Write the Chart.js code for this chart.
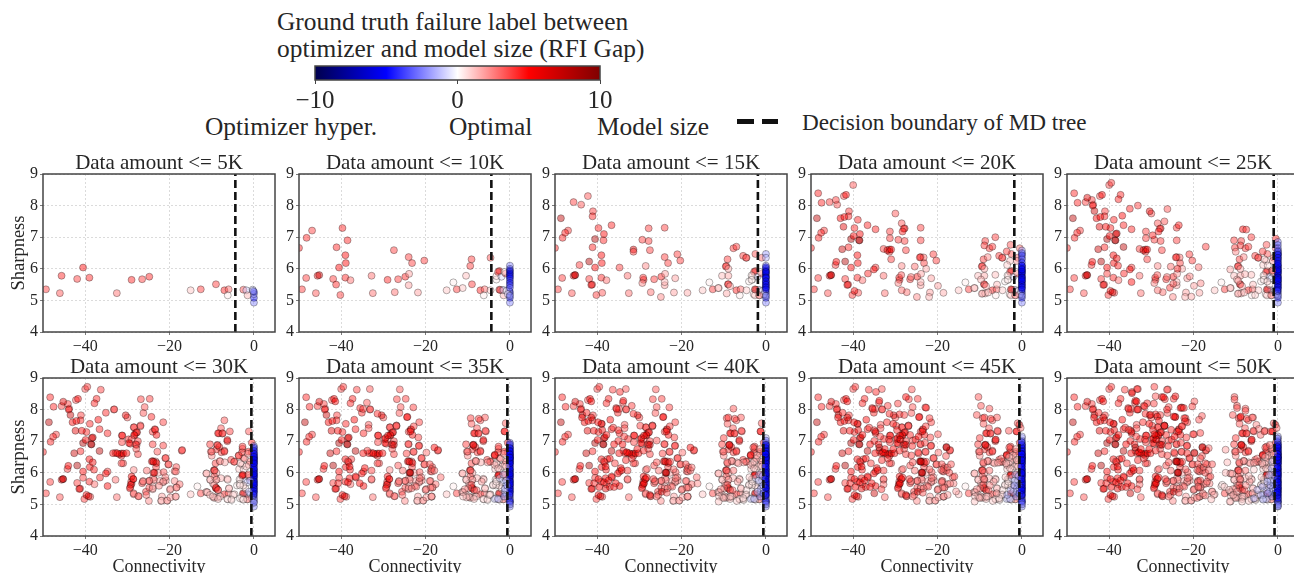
<!DOCTYPE html>
<html>
<head>
<meta charset="utf-8">
<script src="https://cdn.jsdelivr.net/npm/chart.js@4"></script>
<style>
  html, body { margin: 0; padding: 0; background: #fff; overflow: hidden; width: 1294px; height: 573px; }
  body { position: relative; font-family: "Liberation Serif", serif; color: #262626; }
  canvas { position: absolute; filter: blur(0.35px); }
  .label { position: absolute; white-space: nowrap; font-size: 25.4px; line-height: 28px; }
  .dash { position: absolute; left: 737px; top: 119px; width: 41px; height: 5px;
          background: linear-gradient(90deg, #111 0 17px, transparent 17px 25px, #111 25px); }
</style>
</head>
<body>
<div class="label" style="left:277px;top:7px">Ground truth failure label between</div>
<div class="label" style="left:277px;top:34px">optimizer and model size (RFI Gap)</div>
<div class="label" style="left:205px;top:112px">Optimizer hyper.</div>
<div class="label" style="left:449px;top:112px">Optimal</div>
<div class="label" style="left:597px;top:112px">Model size</div>
<div class="label" style="left:802px;top:108px;font-size:23.2px">Decision boundary of MD tree</div>
<div class="dash"></div>
<canvas id="colorbar" width="380" height="62" style="left:280px;top:60px"></canvas>
<script>
// rows: connectivity, sharpness, RFI gap
const tier5K = [
  [-49.3,5.35,4],[-46,5.23,3.5],[-45.6,5.78,4.5],[-41.9,5.68,4],[-40.5,6.04,5],[-39,5.72,4.5],[-32.5,5.23,3],
  [-29,5.65,4.5],[-26.5,5.67,4],[-24.8,5.75,4.5],[-15,5.32,1.2],[-12.6,5.35,4],[-9,5.51,4],[-7,5.32,4.5],
  [-6,5.35,3],[-6.2,5.16,0.4],[-2.5,5.34,3.5],[-1.8,5.32,-1],[-1.5,5.16,1.5],[-0.3,5.34,-1],
  [0,4.93,-2.5],[0,5.08,-4.5],[0,5.2,-2],[0,5.27,-5],[-0.2,5.3,-1.5]
];
const tier10K = [
  [-50,6.66,4.5],[-46.9,7.21,4],[-48.2,6.98,4.5],[-48.3,5.71,4],[-45.2,5.8,7],[-41.2,5.5,4.5],[-41.1,6.68,4.5],
  [-39.7,7.29,4.5],[-38.5,6.9,4.5],[-39,6.43,5],[-38.9,6.18,5],[-40.2,5.17,4],[-37.8,5.64,3],[-32.8,5.78,3],
  [-27.5,6.59,4],[-27.3,5.26,3],[-23.9,5.84,2],[-24,6.37,4],[-23.2,6.18,4],[-24,5.48,2],[-21.8,5.25,2],
  [-20.3,6.26,4],[-13.4,5.57,0.4],[-11.2,5.39,1.2],[-10.4,5.78,1.4],[-9.4,6.09,4],[-9.1,6.3,4],[-4.6,6.35,3.5],
  [-4.6,5.32,1],[-3.2,5.66,0.3],[-3.2,5.77,0.8],[-2.5,5.93,6],[-2.8,5.9,4],[-2.3,5.33,4],[-1.5,5.33,-0.8],
  [-2,5.75,-0.8],[-1,5.85,3.5],[-1.3,5.9,0.4],[-0.8,5.3,0.4],[-0.5,5.2,-1],
  [0,6.1,-2.5],[0,6.0,-3],[0,5.95,-5],[0,5.9,-4.5],[0,5.85,-5],[0,5.8,-5],[0,5.75,-4.5],[0,5.7,-5],[0,5.62,-4],
  [0,5.55,-5],[0,5.48,-4],[0,5.4,-3.5],[0,5.15,-2.5]
];
const tier15K = [
  [-42.2,8.3,3.5],[-45.6,8.11,4],[-43.8,8.03,3.5],[-41,7.82,4],[-41.1,7.66,4.5],[-48.6,7.6,7.5],[-36.6,7.38,4.5],
  [-47.6,7.14,4.5],[-38.4,7.1,5],[-40.5,6.94,8],[-41.9,6.23,8],[-44.2,6.12,4],[-34.7,6.04,4],[-45.3,5.8,6.5],
  [-41.4,5.49,6],[-38.8,5.24,3.5],[-27.8,7.28,4],[-24,7.3,4],[-29.3,6.92,4],[-27.8,6.88,4],
  [-31.4,6.61,6],[-31.4,6.54,4],[-21,6.46,4],[-28.5,6.09,2.5],[-29.1,5.72,4],
  [-29.3,5.55,2.5],[-24,5.58,1.5],[-21.5,5.7,2],[-24.9,5.11,2.5],[-18.6,5.24,1.8],[-11.3,5.39,1.2],
  [-7.7,6.65,4],[-7,6.7,4],[-9.5,6.07,4],[-8.9,6,1.8],[-8.9,5.78,1.8],[-8.9,5.51,4],[-8.5,5.45,1.8],[-9.3,5.22,1.8],
  [-2.5,6.47,3.5],[-5.4,6.41,4],[-4.7,6.35,3.5],[-3.4,5.79,0.4],[-4,5.6,0.3],
  [-3.4,5.65,0.4],[-2.9,5.2,0.5],[-2.6,5.16,1],[-1.6,5.16,2.5],[-2.6,5.35,3.5],[-1,6.35,3],
  [0,6.47,-2],[0,6.35,-1.5],[0,6.05,-5],[0,5.9,-5],[0,5.72,-5],[0,5.6,-5],[0,5.5,-5],[0,5.42,-5],[0,5.35,-5]
];
const tier20K = [
  [-40,8.65,3.5],[-48.3,8.39,4.5],[-47.5,8.09,4.5],[-44.1,8.18,4],[-41.7,8.34,5],[-43,7.6,5],[-42.1,7.64,5],
  [-38.9,7.55,4.5],[-30,7.75,3.5],[-28.5,7.44,3.5],[-34.7,7.25,4.5],[-42.3,7.33,6],[-31.3,7.18,4],[-31.3,6.97,4],
  [-28,7.27,4.5],[-28.3,7.18,4.5],[-38.6,6.9,9],[-39.9,7.04,5],[-24,6.9,4],[-42.6,6.62,7],[-32.8,6.63,4],
  [-31.9,6.59,6],[-31,6.61,5],[-31,6.3,4],[-44,6.22,5],[-36.5,5.85,4.5],[-35.1,5.98,5],[-39.7,5.3,5],
  [-25.4,6.07,3],[-23.3,6.36,3],[-24.2,6.36,4.5],[-22.7,6,1.8],[-28.6,5.8,3.5],[-26.3,5.74,3],[-28.5,5.32,3],
  [-19.9,5.46,2],[-22,5.11,1.6],[-8.7,6.88,4],[-8.9,6.74,4],[-6.3,7,4],[-2.7,6.76,3.5],
  [-8.1,6.37,2.5],[-3.6,6.55,4],[-6.3,5.81,1.4],[-5.9,5.5,1.4],[-9.7,5.66,1.5],[-8.7,5.22,1.5],
  [-9.5,5.21,1.4],[-8,5.25,1.4],[-2.8,6.25,1.2],[-3.5,6.12,1],[-0.5,6.65,3],[-1.2,6.25,2],
  [0,6.58,-2],[0,6.5,-3],[0,6.42,-4],[0,6.3,-3.5],[0,6.2,-5],[0,6.1,-5],[0,5.98,-5],[0,5.65,-5]
];
const tier25K = [
  [-39.5,8.72,4],[-37.3,8.34,4.5],[-37.8,8.2,4.5],[-45.2,8.25,6],[-43.9,8,5],[-43.5,7.83,7],[-33.2,8,4],[-35.1,7.9,4.5],
  [-30.4,7.82,6],[-26.2,7.89,3.5],[-36.9,7.68,5],[-26.9,7.5,3.5],[-23.5,7.38,4.5],[-40.8,7.33,5],[-38.2,7.12,7],
  [-36.6,6.69,7.5],[-29.7,7.06,4.5],[-17.1,6.7,4],[-10.4,6.9,4],[-10.2,6.67,4],[-10,6.54,2.5],[-8.3,7.25,5],
  [-7.5,7.24,4],[-38.2,6.33,5.5],[-37.9,6.1,4.5],[-40.5,5.84,4],[-34.7,5.58,5],[-23.8,6,4.5],[-18.8,6.05,3],
  [-20.9,5.76,2.5],[-18.3,5.54,2.5],[-25.6,5.4,4],[-24.8,5.53,3.5],[-20.5,5.12,1.8],[-11.3,5.98,1.8],
  [-9.4,5.62,2],[-7.8,5.83,1.6],[-5.4,5.17,1],[-39.2,5.26,6.5],[-0.5,6.95,4.5],
  [-3.2,6.3,1],[-2.4,6.1,0.6],[-2,5.5,0.5],[-1.5,5.7,-0.8],[-2.5,5.6,0.8],[-1.3,5.95,3.5],
  [0,6.85,-2.5],[0,6.75,-3],[0,6.65,-3],[0,6.55,-4],[0,6.45,-5],[0,6.35,-5],[0,6.25,-5],[0,6.15,-5],[-0.1,5.3,-4]
];
const tier30K = [
  [-36.3,8.63,4],[-26.8,8.33,4],[-24.7,8.34,4],[-25.9,8.08,3.5],[-24.3,7.77,4.5],[-21.5,7.6,4],[-26.9,7.47,3.5],
  [-28.4,7.44,4],[-23.4,7.36,4.5],[-23.1,7.2,5],[-27.7,7.28,4],[-28.4,7.2,5],[-29,7.06,3],[-27.5,7,4],[-29.6,6.94,5],
  [-28,6.9,4.5],[-27.9,6.76,3.5],[-21.5,6.86,4],[-22.9,6.67,3.5],[-17,6.72,4],[-20.9,6.47,3.5],
  [-20.2,6.27,3],[-18.4,6.18,3.5],[-18.5,6.04,3],[-21.4,6.02,3.5],[-23.1,6.31,5],[-23.8,6.35,6],[-23.6,6,6],
  [-21,5.86,2.5],[-22.3,5.74,2],[-23.7,5.78,3],[-24.8,5.74,2.5],[-26.3,5.72,2.5],
  [-21.5,5.72,2],[-18.8,5.74,2.5],[-17.6,5.64,3],[-18.4,5.53,2.5],[-19.8,5.49,2],[-22.5,5.59,2.5],[-24,5.51,1.8],
  [-29,5.88,5],[-28.6,5.8,5],[-29.2,5.62,5],[-29.4,5.51,5],[-28.5,5.35,3],[-27.4,5.26,3],[-25.5,5.3,3],
  [-21.9,5.12,1.4],[-20.6,5.12,2],[-19.8,5.22,2],[-18.5,5.25,2],[-31.4,6.3,3.5],[-33.4,6.62,5],
  [-32.4,6.62,5],[-30.2,6.62,5],[-31.2,7.18,5],[-33.1,8.01,3.5],
  [-11.2,5.98,1.4],[-9.4,5.88,3.5],[-10.3,5.78,1.2],[-8.9,5.78,1.8],[-8.2,6.82,4.5],[-7,7.66,3.5],
  [-7.8,7.41,3.5],[-5.7,7.31,4],[-8.5,7.25,4.5],[-7.4,7.25,4],[-6.3,7.04,6],[-8.6,6.87,4],[-10,6.67,3],
  [-7,6.67,4],[-3.6,6.54,3.5],[-2.8,6.65,4],[-1.3,6.67,5],[-2.7,6.83,4],[-1.2,7.31,3.5],
  [-8,6.36,2],[-6.9,6.33,1.8],[-9.3,6.07,3.5],[-9,5.53,5],[-8.5,5.46,4],[-11,5.38,1.4],[-10.4,5.3,1.4],[-9.7,5.25,1.2],
  [-8.5,5.17,1.2],[-6.2,5.78,1],[-5.9,5.51,1],[-6.3,5.17,0.7],[-4.9,5.3,0.7],[-5.3,5.14,0.5],[-3.3,5.19,0.4],
  [-2.5,5.15,0.4],[-2.7,5.93,5],[-3.3,5.6,0.5],[-2.2,6.45,1.5],[-1.8,6.2,1],[-1.4,6.6,2],[-1.2,5.4,-1.2],[-0.9,5.75,-1.5],
  [0,6.8,-4],[0,6.7,-5],[0,6.6,-5],[0,6.5,-5],[0,6.4,-5],[0,6.3,-5],[0,5.05,-2]
];
const tier35K = [
  [-33.2,8.65,3.5],[-26.1,8.64,3.5],[-33.9,8.22,3.5],[-35.5,8.05,4.5],[-34.8,8.02,4],[-41.4,8.26,5],[-22.9,8.07,4],
  [-24.4,7.76,5],[-31.4,7.87,4.5],[-33.5,7.52,3.5],[-33.5,7.41,3.5],[-26.9,7.49,3.5],[-29.5,7.1,5],
  [-28.9,7.18,6],[-27.5,6.89,6.5],[-24.1,6.91,3.5],[-21.6,6.85,4],[-21.7,7.12,4],[-22.8,7.47,4],
  [-23.6,7.31,4.5],[-17.9,6.8,5],[-19.8,6.64,3],[-22.8,6.66,3.5],[-24.5,6.61,4],
  [-26.5,6.23,3.5],[-19,6.27,3.5],[-18.6,6.12,3.5],[-17.9,6.07,3],[-16.4,5.86,3],[-19,5.74,3],
  [-18.8,5.53,3],[-20,5.46,2.5],[-21.4,5.83,3],[-22.2,5.56,3],[-23.3,5.51,3],[-18.6,5.25,2],
  [-23.7,6.01,8],[-33.8,6.7,4],[-34.8,6.62,5],[-37.6,6.43,4],[-38.4,6.36,4],[-38,6.2,5],
  [-34.4,6.15,5],[-32.8,6.07,4],[-36.6,5.88,4.5],[-38,5.83,5],[-38.4,5.7,5],[-40.7,5.67,4.5],[-35.6,5.67,5],
  [-32.8,5.8,3],[-9.3,7.73,4],[-5.9,7.75,3.5],[-7.4,7.71,4],[-9.1,7.55,3.5],[-5.8,7.33,3.5],
  [-8.7,6.89,6],[-3.6,6.57,5],[-1,7.57,3.5],[-1.3,7.31,5],[-8.1,6.38,2],
  [-5.3,6.33,2],[-3.6,6.25,1.6],[-2.8,6.14,1.2],[-9.1,5.62,3.5],
  [-9.9,5.51,2.5],[-10.7,5.48,2],[-10.3,5.22,1.4],[-11.1,5.25,1.2],[-7.9,5.45,3],[-6.7,5.72,2],
  [-4.7,5.3,0.7],[-3.6,5.17,-1],[-2.8,5.17,-1.5],[-4,5.62,0.6],[-3.2,5.72,0.4],[-2.4,5.83,-0.7],[-1.6,5.95,-1.2],
  [-1.2,5.5,-1.6],[-1.4,5.25,-2],[-0.7,5.6,-2],[-0.9,6.2,1],
  [0,6.95,-3],[0,6.9,-4],[0,6.78,-5],[0,6.68,-5],[0,6.58,-5],[0,6.48,-5],[0,5.1,-5],[0,5.0,-2.5]
];
const tier40K = [
  [-34.6,8.56,4.5],[-33.8,8.28,5],[-31.8,8.12,4],[-35.4,8.02,4.5],[-39,7.55,6],[-38.8,7.35,5.5],[-29.8,7.49,4],
  [-35,7.01,4.5],[-32.7,7.07,4.5],[-25.9,7.02,3.5],[-25.9,6.33,3.5],[-22.7,6.35,4],[-21.9,6.11,3],
  [-17.6,6.17,3],[-16.2,5.66,2.5],[-24.7,5.4,6],[-23.5,5.37,3.5],[-25.9,5.25,3],[-27.5,5.3,6],
  [-28.9,5.67,5],[-28.3,5.85,4.5],[-26.7,5.8,4],[-28.2,6.12,3],[-39.7,5.8,5],[-37.3,5.76,5],
  [-34.2,6.08,5],[-7.7,8.03,3.5],[-8.9,7.75,4],[-10,7.1,4],
  [-43.6,7.75,5],[-42.5,7.9,4.5],[-41.4,7.75,6],[-39.8,7.6,5],[-37.8,7.2,5],[-36.2,7.43,4],[-35,7.35,4.5],[-33.6,7.15,4],
  [-36,6.9,5],[-34,6.9,5],[-33,6.65,5],[-30.5,6.75,5],[-29,6.7,4.5],[-31.8,6.45,4],[-37,6.45,5],[-35.8,6.3,4],[-33.2,6.4,4.5],
  [-37,5.55,5],[-38,5.5,6],[-39.5,5.55,5],[-36,5.55,4.5],
  [-3,6.8,3.5],[-6.5,6.3,2],[-9.2,6.33,3],[-7.7,6.07,3],[-11.2,5.09,1.2],[-10,5.2,1.4],
  [-8.4,5.25,1.2],[-6.9,5.11,1],[-5.4,5.2,0.7],[-4.6,5.45,0.6],[-3.9,5.86,1],[-2.8,6.35,1.3],[-2.1,6.55,1.5],[-1.5,6.75,2],
  [-2,5.4,-1.5],[-1.7,5.75,-1],[-0.8,5.9,-2],[-0.6,5.35,-3],
  [0,7.1,-1.5],[0,7.02,-3],[0,6.88,-5],[-0.1,6.6,-5],[-0.1,6.2,-5],[-0.1,5.8,-5],[0,5.52,-5],[0,5.3,-5]
];
const tier45K = [
  [-27.5,8.4,5],[-29.4,8.19,4],[-22.7,8.06,4.5],[-29,7.85,4.5],[-27.9,7.83,4],[-21.9,7.73,4],[-33.8,6.8,8],[-32.5,6.75,5],
  [-34.7,7.3,6],[-31.5,7.05,4.5],[-19.9,7.22,3.5],[-17.9,6.82,8],[-18,6.53,3.5],[-24,6.35,7.5],[-16.8,6.27,3.5],[-19.1,6.09,3],
  [-17.2,6,3.5],[-16,5.88,3.5],[-19,5.7,3],[-17,5.66,2.5],[-15.6,5.41,2],[-17.6,5.3,2],
  [-32,7.6,4.5],[-30.5,7.55,5],[-29.6,7.35,4.5],[-28.8,7.05,6],[-26.5,7.2,4.5],[-25.2,7.05,4.5],[-24.5,7.15,5],[-23,6.95,4],
  [-26,6.85,4.5],[-24.6,6.65,4],[-26.2,6.55,4],
  [-35,5.35,7],[-32.8,5.63,3],[-33.3,5.48,4],[-10.3,8.4,3.5],[-9.7,8.12,3.5],[-10.7,7.83,3.5],
  [-3.1,7.33,3.5],[-0.6,7.52,4],[-0.3,7.42,3],[-6.2,7.05,4],[-4.9,6.45,2.5],[-5.7,6.32,2],[-3.7,6.3,1.5],[-3,6.5,1],
  [-9,5.8,3],[-7.6,5.6,2.5],[-6,5.35,1.5],[-3.5,5.3,-1.5],[-2.7,5.45,-1.3],[-1.8,5.6,-2],[-1.2,6.4,1.2],
  [0,7.15,-1.5],[-0.1,6.98,-4],[-0.1,6.4,-5],[-0.1,6,-5],[-0.1,5.45,-5]
];
const tier50K = [
  [-29.3,8.72,4],[-26.3,8.63,3.5],[-33.4,8.65,4.5],[-34.6,8.52,6],[-29,8.42,3.5],[-27.1,8.39,5],[-24.3,8.42,5.5],
  [-33.5,8.26,5],[-31,8.2,4.5],[-31.6,8.1,4.5],[-33.4,8,4.5],[-23.1,8.05,4.5],[-22.3,8.05,4],[-19.8,8.26,3.5],
  [-20.3,8.1,4],[-26.3,8,4.5],[-28.6,7.78,5.5],[-30.2,7.84,4.5],[-18,7.8,3.5],[-22.2,7.73,4.5],[-24.7,7.78,5.5],
  [-22,7.63,4.5],[-18.7,7.68,3.5],[-18.4,7.26,4],[-20.1,7.22,4],[-22.7,7.47,4],[-26.9,7.49,6],[-25.3,7.36,4.5],
  [-29.3,7.22,5],[-28.2,7.65,5],[-35.4,7.36,4],[-16.4,6.78,3],[-21.5,6.62,4.5],[-19.8,6.62,7],[-18.4,6.46,3.5],
  [-17.2,6.3,3.5],[-15.6,6.27,3.5],[-16.4,6.08,3],[-16.8,5.72,3],[-18.4,5.76,3.5],[-18.9,5.56,3],[-17.8,5.35,2.5],
  [-15.6,5.4,2],[-15.2,5.3,1.5],[-17.2,5.28,2.5],[-15.8,5.16,1.4],[-19.2,5.2,2.5],[-10.3,8.32,3.5],[-9.7,8.05,3.5],[-7.7,7.96,3.5],
  [-6.1,7.75,3],[-8.8,7.78,5],[-5.1,7.52,2.5],[-4.1,7.2,3],[-4.5,7.39,2.5],[-3.2,7.31,3.5],[-1.7,7.31,4],
  [-12.4,6.73,2],[-12,6.33,1.5],[-12.4,6,1.5],[-10.8,5.97,2],[-13.2,5.62,0.5],[-12.7,5.56,1],
  [-11.6,5.46,1.2],[-11.4,5.09,1.2],[-10.6,5.3,1.6],[-9.7,5.4,2],[-8.5,5.09,1],[-6.9,5.9,1.2],[-5.7,6.1,1],[-5.7,5.19,-1.5],
  [-4.1,5.3,-1.3],[-4.9,5.46,-1.2],[-3.7,5.56,-1.5],[-2.5,5.72,-1.5],[-2.1,5.93,-1],[-1.5,6.14,-1.2],[-1.4,6.35,-0.8],
  [-3.5,5.15,-1],[-2.4,5.35,-2],[-1,6.6,1.5],[-1.9,6.88,3],
  [-0.1,7.08,-3],[-0.1,6.82,-5],[-0.1,6.5,-5],[-0.1,6.15,-5],[-0.1,5.7,-5],[-0.1,5.38,-5],[0,5.2,-5],[0,4.95,-2.5]
];
const tiers = [tier5K, tier10K, tier15K, tier20K, tier25K, tier30K, tier35K, tier40K, tier45K, tier50K];
const dataAmounts = ['5K', '10K', '15K', '20K', '25K', '30K', '35K', '40K', '45K', '50K'];
const boundaries = [-4.4, -4.4, -1.9, -1.8, -1, -0.6, -0.6, -0.6, -0.6, -0.8];
const xTicks = [-40, -20, 0];
const yTicks = [4, 5, 6, 7, 8, 9];
const colorbarTicks = [-10, 0, 10];

const textColor = '#262626';
const serif = '"Liberation Serif", serif';
const panelLefts = [43, 299, 555, 811, 1067];
const rowTops = [174, 378];

// same stops as matplotlib seismic
function seismic(gap, alpha) {
    const t = Math.max(0, Math.min(1, (gap + 10) / 20));
    let r, g, b;
    if (t < 0.25) { r = 0; g = 0; b = 0.3 + 0.7 * t / 0.25; }
    else if (t < 0.5) { const k = (t - 0.25) / 0.25; r = k; g = k; b = 1; }
    else if (t < 0.75) { const k = (t - 0.5) / 0.25; r = 1; g = 1 - k; b = 1 - k; }
    else { r = 1 - 0.5 * (t - 0.75) / 0.25; g = 0; b = 0; }
    return `rgba(${Math.round(r * 255)},${Math.round(g * 255)},${Math.round(b * 255)},${alpha})`;
}

// the frame on all four sides
const frame = {
    id: 'frame',
    afterDraw(chart) {
        const a = chart.chartArea, c = chart.ctx;
        c.save();
        c.strokeStyle = '#444';
        c.lineWidth = 1.5;
        c.strokeRect(a.left, a.top, a.right - a.left, a.bottom - a.top);
        c.restore();
    }
};

const minus = v => String(v).replace('-', '\u2212');

function makePanel(i) {
    const col = i % 5, row = Math.floor(i / 5);
    const canvas = document.createElement('canvas');
    canvas.width = 43 + 232 + 8;
    canvas.height = 26 + 158 + 42;
    canvas.style.left = (panelLefts[col] - 43) + 'px';
    canvas.style.top = (rowTops[row] - 26) + 'px';
    document.body.appendChild(canvas);

    const points = tiers.slice(0, i + 1).flat().map(p => ({ x: p[0], y: p[1], gap: p[2] }));

    new Chart(canvas, {
        type: 'scatter',
        data: {
            datasets: [{
                data: [{ x: boundaries[i], y: 4 }, { x: boundaries[i], y: 9 }],
                showLine: true,
                borderColor: '#111',
                borderWidth: 2.6,
                borderDash: [8, 4],
                pointRadius: 0,
                order: 1
            }, {
                data: points,
                pointRadius: 3.5,
                pointBorderWidth: 0.8,
                pointBorderColor: 'rgba(0,0,0,0.38)',
                pointBackgroundColor: ctx => seismic(ctx.raw.gap, 0.45),
                order: 2
            }]
        },
        options: {
            responsive: false,
            animation: false,
            devicePixelRatio: 1,
            layout: { padding: { right: 8 } },
            plugins: {
                legend: { display: false },
                tooltip: { enabled: false },
                title: {
                    display: true,
                    fullSize: false,
                    text: 'Data amount <= ' + dataAmounts[i],
                    color: textColor,
                    font: { family: serif, size: 21, weight: 'normal', lineHeight: 22 / 21 },
                    padding: { top: 4, bottom: 0 }
                }
            },
            scales: {
                x: {
                    type: 'linear',
                    min: -50,
                    max: 5,
                    afterBuildTicks: s => { s.ticks = xTicks.map(v => ({ value: v })); },
                    afterFit: s => { s.height = 42; },
                    ticks: {
                        color: textColor,
                        padding: 2,
                        maxRotation: 0,
                        font: { family: serif, size: 16 },
                        callback: minus
                    },
                    grid: { color: '#ccc', lineWidth: 0.7, tickColor: '#444', tickLength: 3, tickBorderDash: [] },
                    border: { display: false, dash: [2, 2] },
                    title: {
                        display: row === 1,
                        text: 'Connectivity',
                        color: textColor,
                        font: { family: serif, size: 18 },
                        padding: { top: 0, bottom: 0 }
                    }
                },
                y: {
                    min: 4,
                    max: 9,
                    afterBuildTicks: s => { s.ticks = yTicks.map(v => ({ value: v })); },
                    afterFit: s => { s.width = 43; },
                    ticks: {
                        color: textColor,
                        padding: 2,
                        font: { family: serif, size: 16 }
                    },
                    grid: { color: '#ccc', lineWidth: 0.7, tickColor: '#444', tickLength: 3, tickBorderDash: [] },
                    border: { display: false, dash: [2, 2] },
                    title: {
                        display: col === 0,
                        text: 'Sharpness',
                        color: textColor,
                        font: { family: serif, size: 18.5 },
                        padding: { top: 8, bottom: 0 }
                    }
                }
            }
        },
        plugins: [frame]
    });
}

for (let i = 0; i < tiers.length; i++) makePanel(i);

new Chart(document.getElementById('colorbar'), {
    type: 'bar',
    data: {
        labels: [''],
        datasets: [{
            data: [[colorbarTicks[0], colorbarTicks[2]]],
            barPercentage: 1,
            categoryPercentage: 1,
            backgroundColor: ctx => {
                const a = ctx.chart.chartArea;
                if (!a) return '#fff';
                const g = ctx.chart.ctx.createLinearGradient(a.left, 0, a.right, 0);
                [-10, -5, 0, 5, 10].forEach(v => g.addColorStop((v + 10) / 20, seismic(v, 1)));
                return g;
            }
        }]
    },
    options: {
        indexAxis: 'y',
        responsive: false,
        animation: false,
        devicePixelRatio: 1,
        layout: { padding: { left: 35, right: 60, top: 6 } },
        plugins: { legend: { display: false }, tooltip: { enabled: false } },
        scales: {
            x: {
                min: -10,
                max: 10,
                afterBuildTicks: s => { s.ticks = colorbarTicks.map(v => ({ value: v })); },
                afterFit: s => { s.height = 42; },
                ticks: {
                    color: textColor,
                    padding: 2,
                    maxRotation: 0,
                    font: { family: serif, size: 25 },
                    callback: minus
                },
                grid: { drawOnChartArea: false, tickColor: '#444', tickLength: 4 },
                border: { display: false }
            },
            y: { display: false }
        }
    },
    plugins: [frame]
});
</script>
</body>
</html>
